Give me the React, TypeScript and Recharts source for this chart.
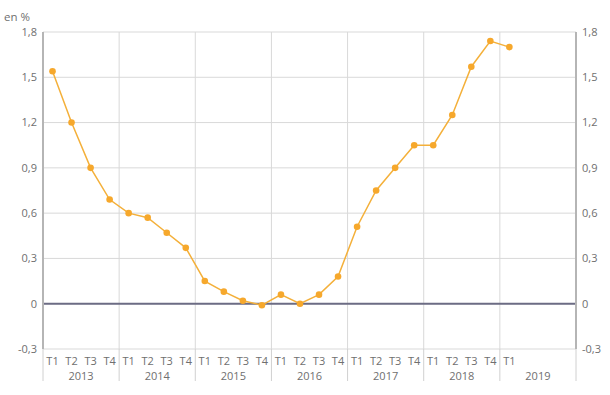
import { LineChart, Line, XAxis, YAxis, CartesianGrid, ReferenceLine } from 'recharts';

// quarterly values, 2013 T1 .. 2019 T1
const years = ['2013', '2014', '2015', '2016', '2017', '2018', '2019'];
const quarters = ['T1', 'T2', 'T3', 'T4'];
const values = [
  1.54, 1.2, 0.9, 0.69,
  0.6, 0.57, 0.47, 0.37,
  0.15, 0.08, 0.02, -0.01,
  0.06, 0.0, 0.06, 0.18,
  0.51, 0.75, 0.9, 1.05,
  1.05, 1.25, 1.57, 1.74,
  1.7,
];
const yTicks = [-0.3, 0, 0.3, 0.6, 0.9, 1.2, 1.5, 1.8];

const slots = years.length * 4;
const data = values.map((v, i) => ({ x: i + 0.5, q: quarters[i % 4], value: v }));
const quarterTicks = data.map(d => d.x);
const yearBounds = years.map((_, i) => i * 4).concat([slots]);

const FONT = '"Open Sans", sans-serif';
const TEXT = '#6f6f6f';
const Q_HEIGHT = 14;

const fmtY = (v: number) => (v === 0 ? '0' : v.toFixed(1).replace('.', ','));

const YearTick = (props: any) => {
  const { x, y, payload, index, width, visibleTicksCount } = props;
  const yearW = width / (visibleTicksCount - 1);
  const top = y - Q_HEIGHT;
  return (
    <g>
      <line x1={x} x2={x} y1={top} y2={y + 18} stroke="#d0d0d0" strokeWidth={1} />
      {index < years.length && (
        <text x={x + yearW / 2} y={y + 9} dy="0.71em" textAnchor="middle" fill={TEXT} fontSize={11} fontFamily={FONT}>
          {years[payload.value / 4]}
        </text>
      )}
    </g>
  );
};

export default function App() {
  return (
    <div style={{ position: 'absolute', left: 0, top: 0, width: 610, height: 395, background: '#fff' }}>
      <div style={{ position: 'absolute', left: 4, top: 9, fontSize: 11.5, color: TEXT, fontFamily: FONT }}>en %</div>
      <LineChart width={610} height={395} data={data} margin={{ top: 32, right: 0, left: 0, bottom: 0 }}>
        <CartesianGrid xAxisId="yr" yAxisId="left" stroke="#d9d9d9" strokeWidth={1} />
        <XAxis
          xAxisId="q"
          dataKey="x"
          type="number"
          domain={[0, slots]}
          allowDataOverflow
          ticks={quarterTicks}
          tickFormatter={(v: number) => quarters[Math.floor(v) % 4]}
          interval={0}
          height={Q_HEIGHT}
          tickSize={0}
          tickMargin={8}
          axisLine={false}
          tickLine={false}
          tick={{ fill: TEXT, fontSize: 11, fontFamily: FONT }}
        />
        <XAxis
          xAxisId="yr"
          dataKey="x"
          type="number"
          domain={[0, slots]}
          allowDataOverflow
          ticks={yearBounds}
          interval={0}
          height={32}
          tickSize={0}
          tickMargin={0}
          axisLine={false}
          tickLine={false}
          tick={<YearTick />}
        />
        <YAxis
          yAxisId="left"
          domain={[-0.3, 1.8]}
          allowDataOverflow
          ticks={yTicks}
          interval={0}
          width={43}
          tickSize={0}
          tickMargin={6}
          tickFormatter={fmtY}
          tickLine={false}
          axisLine={{ stroke: '#b5b5b5', strokeWidth: 2 }}
          tick={{ fill: TEXT, fontSize: 11, fontFamily: FONT }}
        />
        <YAxis
          yAxisId="right"
          orientation="right"
          domain={[-0.3, 1.8]}
          allowDataOverflow
          ticks={yTicks}
          interval={0}
          width={34}
          tickSize={0}
          tickMargin={6}
          tickFormatter={fmtY}
          tickLine={false}
          axisLine={{ stroke: '#b5b5b5', strokeWidth: 2 }}
          tick={{ fill: TEXT, fontSize: 11, fontFamily: FONT }}
        />
        <ReferenceLine xAxisId="q" yAxisId="right" y={0} stroke="#6c6c84" strokeWidth={2} ifOverflow="extendDomain" />
        <Line
          xAxisId="q"
          yAxisId="left"
          dataKey="value"
          stroke="#f4b03a"
          strokeWidth={1.5}
          dot={{ r: 3.3, fill: '#f6a82c', stroke: '#f6a82c', strokeWidth: 0 }}
          isAnimationActive={false}
        />
      </LineChart>
    </div>
  );
}
